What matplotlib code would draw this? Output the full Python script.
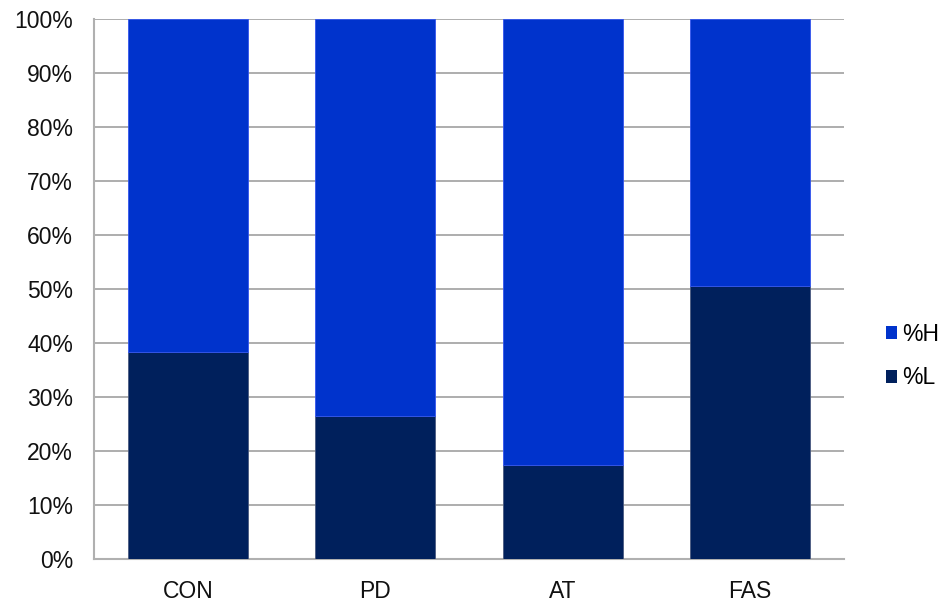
import matplotlib.pyplot as plt
from matplotlib.patches import Patch
import numpy as np

plt.rcParams['font.family'] = ['Liberation Sans', 'DejaVu Sans']

groups = ['CON', 'PD', 'AT', 'FAS']
pct_L = [38.4, 26.5, 17.4, 50.5]
pct_H = [100 - v for v in pct_L]
yticks = list(range(0, 101, 10))

col_H = '#0033CC'
col_L = '#00205C'
fs = 16.5

fig = plt.figure(figsize=(9.42, 6.05), dpi=100)
ax = fig.add_axes([94 / 942, 46 / 605, 750 / 942, 540 / 605])

x = np.arange(len(groups))
ax.bar(x, pct_L, width=0.64, color=col_L, edgecolor='#4a5a80', linewidth=0.6, zorder=3)
ax.bar(x, pct_H, width=0.64, bottom=pct_L, color=col_H, edgecolor='#3355ee',
       linewidth=0.6, zorder=3)

ax.set_xlim(-0.5, len(groups) - 0.5)
ax.set_ylim(0, 100)
ax.set_yticks(yticks)
ax.set_yticklabels([f'{t}%' for t in yticks], fontsize=fs, color='#111111')
ax.set_xticks(x)
ax.set_xticklabels(groups, fontsize=fs, color='#111111')
ax.tick_params(axis='y', length=0, pad=15)
ax.tick_params(axis='x', length=0, pad=15)
ax.yaxis.grid(True, color='#a0a0a0', linewidth=1.2, zorder=0)
ax.set_axisbelow(True)

for side in ['top', 'right']:
    ax.spines[side].set_visible(False)
for side in ['left', 'bottom']:
    ax.spines[side].set_color('#b0b0b0')
    ax.spines[side].set_linewidth(1.5)

handles = [Patch(facecolor=col_H, label='%H'), Patch(facecolor=col_L, label='%L')]
fig.legend(handles=handles, loc='center left', bbox_to_anchor=(886 / 942, 1 - 356 / 605),
           frameon=False, fontsize=fs, handlelength=0.5, handleheight=0.5,
           handletextpad=0.22, labelspacing=0.9, borderpad=0, borderaxespad=0)

fig.savefig('out.png', dpi=100)
